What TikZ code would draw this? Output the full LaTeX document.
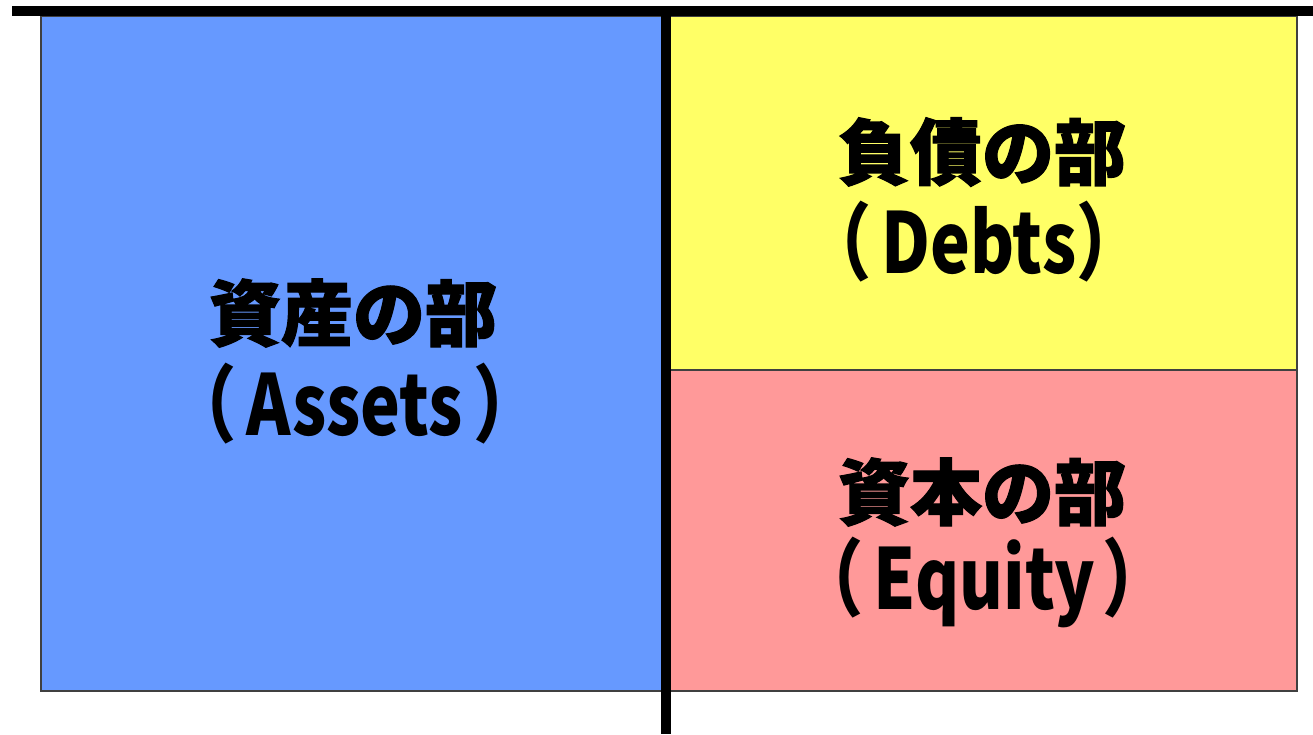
\documentclass[tikz,border=0pt]{standalone}
\usepackage{fontspec}
\newfontfamily\jp{Noto Sans CJK JP}[BoldFeatures={FakeBold=1.6}]
\newfontfamily\jplat{Noto Sans CJK JP}[BoldFeatures={FakeStretch=0.8}]
\definecolor{assetblue}{HTML}{6699FF}
\definecolor{debtyellow}{HTML}{FFFF66}
\definecolor{equitypink}{HTML}{FF9999}
\tikzset{
  panel/.style={draw=black!75, line width=1.2pt},
  bar/.style={line width=10pt, black},
  kanji/.style={font=\jp\bfseries\fontsize{72}{72}\selectfont, inner sep=0pt},
  latin/.style={font=\jplat\bfseries\fontsize{84}{84}\selectfont, inner sep=0pt}
}
\begin{document}
\begin{tikzpicture}[x=1pt,y=-1pt]
\useasboundingbox (0,0) rectangle (1313,734);
% panels
\filldraw[panel, fill=assetblue] (41,16) rectangle (662,691);
\filldraw[panel, fill=debtyellow] (670,16) rectangle (1297,370);
\filldraw[panel, fill=equitypink] (670,370) rectangle (1297,691);
% coordinates of the T-account lines
\coordinate (tl) at (12,11);
\coordinate (tr) at (1313,11);
\coordinate (vt) at (666,6);
\coordinate (vb) at (666,734);
\draw[bar] (tl) -- (tr);
\draw[bar] (vt) -- (vb);
% labels
\node[kanji] (aj) at (353,313) {資産の部};
\node[latin] (ae) at (355,404) {（\hspace{0.12em}Assets\hspace{0.12em}）};
\node[kanji] (dj) at (982,152) {負債の部};
\node[latin] (de) at (974,242) {（\hspace{0.12em}Debts）};
\node[kanji] (ej) at (982,492) {資本の部};
\node[latin] (ee) at (983,582) {（\hspace{0.12em}Equity\hspace{0.08em}）};
\end{tikzpicture}
\end{document}
